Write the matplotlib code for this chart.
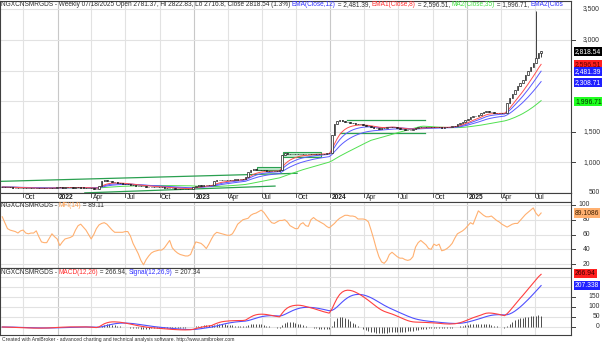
import matplotlib
matplotlib.use("Agg")
import matplotlib.pyplot as plt
import matplotlib.dates as mdates
import numpy as np
import pandas as pd

W, H = 602, 343
plt.rcParams['font.family'] = ['Liberation Sans', 'DejaVu Sans']

# weekly closes, first bar 2021-08-06, last 2025-07-18
closes = [
    598, 595, 592, 590, 588, 585, 583, 582, 580,
    578, 577, 576, 578, 575, 577, 576, 578, 580, 581, 583, 585,
    590, 592, 589, 591, 593, 590, 588, 590, 592, 589, 587, 585, 583,
    575, 570, 572,
    620, 690, 705,
    695, 688, 680, 672, 665, 660, 652, 645, 640,
    632, 625, 620, 615, 612, 608, 605, 603, 602, 600, 598, 596,
    590, 585, 582, 578, 575, 573, 570, 568, 566, 567, 570, 572,
    590, 615, 625, 622, 628, 630, 632, 635,
    695, 705, 710, 712, 708, 710, 715, 718, 720, 722, 725, 735,
    760, 845, 870,
    885, 880, 878, 872, 870, 866, 862, 860, 858, 862, 870,
    1120, 1150, 1145, 1140, 1135, 1138, 1142, 1140, 1135, 1130, 1135, 1140,
    1145, 1142, 1138, 1140, 1145, 1150, 1155,
    1440, 1620, 1680, 1690,
    1675, 1665, 1655, 1645, 1640, 1630, 1625, 1620, 1610, 1600, 1590,
    1575, 1565, 1555, 1550, 1555, 1565,
    1580, 1585, 1580, 1570,
    1555, 1545, 1540, 1535, 1530, 1535, 1545,
    1560, 1570, 1575, 1575, 1570,
    1575, 1578, 1570, 1575, 1572, 1568, 1570, 1575, 1580,
    1590, 1600, 1620, 1640, 1665,
    1690, 1710, 1735, 1750, 1765,
    1780, 1800, 1830, 1840, 1825,
    1815, 1810, 1805, 1810, 1800, 1805,
    1965, 2050, 2125, 2190, 2240, 2290, 2350, 2425, 2490, 2560, 2630, 2700,
    2782.3, 2818.54,
]
last_open, last_high, last_low = 2781.37, 2822.83, 2716.8
spike_bar, spike_high = 204, 3470

mfi = [
    84, 76, 68, 66, 65, 64, 62, 65, 66, 62,
    61, 62, 62, 65, 57, 50, 49, 49, 55, 61,
    57, 54, 45, 50, 54, 55, 56, 58, 66, 72,
    74, 70, 66, 60, 54, 60, 68, 73, 75, 76,
    74, 70, 66, 63, 63, 63, 63, 64, 64, 58,
    48, 41, 34, 25, 19, 26, 31, 35, 37, 38,
    39, 39, 42, 47, 52, 42, 38, 35, 33, 32,
    31, 31, 33, 42, 50, 49, 48, 45, 41, 47,
    54, 60, 63, 62, 61, 60, 59, 59, 61, 67,
    74, 77, 80, 81, 82, 86, 88, 89, 91, 93,
    90, 85, 80, 76, 75, 77, 79, 79, 80, 77,
    72, 70, 68, 68, 74, 76, 72, 71, 80, 83,
    80, 78, 76, 74, 71, 69, 72, 75, 79, 82,
    84, 86, 86, 85, 85, 84, 81, 81, 81, 80,
    77, 66, 54, 41, 30, 23, 21, 25, 33, 36,
    33, 30, 28, 28, 26, 25, 26, 30, 43, 49,
    52, 49, 46, 41, 40, 47, 45, 47, 38, 39,
    41, 44, 48, 55, 61, 63, 65, 68, 72, 76,
    74, 83, 92, 89, 86, 84, 84, 85, 82, 79,
    77, 74, 72, 70, 72, 74, 75, 75, 79, 83,
    87, 90, 93, 96, 89, 85, 89.11,
]

# hand-drawn study lines: (start date, start value, end date, end value)
trend_lines = [
    ("2021-07-31", 690, "2023-10-04", 822),
    ("2022-03-15", 502, "2023-08-06", 613),
    ("2024-02-14", 1690, "2024-09-10", 1690),
    ("2024-01-26", 1484, "2024-09-10", 1484),
]
boxes = [
    ("2023-06-20", "2023-08-26", 874, 926),
    ("2023-08-26", "2023-12-08", 1095, 1172),
]

dates = pd.date_range("2021-08-06", periods=len(closes), freq="W-FRI")
x = mdates.date2num(dates)
c = pd.Series(closes, dtype=float)
o = c.shift(1).fillna(c.iloc[0])
o.iloc[-1] = last_open
hi = np.maximum(o, c)
lo = np.minimum(o, c)
hi.iloc[-1], lo.iloc[-1] = last_high, last_low
hi.iloc[spike_bar] = spike_high

ema8 = c.ewm(span=8, adjust=False).mean()
ema12 = c.ewm(span=12, adjust=False).mean()
ema20 = c.ewm(span=20, adjust=False).mean()
ma35 = c.rolling(35, min_periods=1).mean()
macd = c.ewm(span=12, adjust=False).mean() - c.ewm(span=26, adjust=False).mean()
signal = macd.ewm(span=9, adjust=False).mean()

fig = plt.figure(figsize=(W / 100, H / 100), dpi=100)


def px_axes(x0, y0, x1, y1):
    return fig.add_axes([x0 / W, 1 - y1 / H, (x1 - x0) / W, (y1 - y0) / H])


ax_p = px_axes(0, 1, 571, 193)
ax_d = px_axes(0, 193, 571, 202)
ax_m = px_axes(0, 202, 571, 268)
ax_c = px_axes(0, 268, 571, 335)

xmin = mdates.date2num(pd.Timestamp("2021-07-31"))
xmax = mdates.date2num(pd.Timestamp("2025-10-06"))
quarters = pd.date_range("2021-10-01", "2025-07-01", freq="QS")

for a in (ax_p, ax_d, ax_m, ax_c):
    a.set_xlim(xmin, xmax)
    a.set_xticks([])
    a.set_yticks([])
    for s in a.spines.values():
        s.set_color("#404040")
        s.set_linewidth(0.8)
for a in (ax_p, ax_m, ax_c):
    for q in quarters:
        a.axvline(mdates.date2num(q), color="#c8c8c8" if q.month == 1 else "#e2e2e2",
                  lw=0.8, zorder=0)

# price pane
ax_p.set_ylim(500, 3636)
for v in [1000, 1500, 2000, 2500, 3000, 3500]:
    ax_p.axhline(v, color="#e2e2e2", lw=0.8, zorder=0)
for d0, d1, v0, v1 in boxes:
    t0, t1 = mdates.date2num(pd.Timestamp(d0)), mdates.date2num(pd.Timestamp(d1))
    ax_p.add_patch(plt.Rectangle((t0, v0), t1 - t0, v1 - v0, fc="#bfe8cc",
                                 ec="#2aa050", lw=0.8, zorder=1))
for d0, v0, d1, v1 in trend_lines:
    ax_p.plot([mdates.date2num(pd.Timestamp(d0)), mdates.date2num(pd.Timestamp(d1))],
              [v0, v1], color="#2aa050", lw=0.9, zorder=2)
ax_p.plot(x, ma35, color="#50e050", lw=0.7, zorder=3)
ax_p.plot(x, ema20, color="#5a5aff", lw=0.7, zorder=3)
ax_p.plot(x, ema12, color="#5a5aff", lw=0.7, zorder=3)
ax_p.plot(x, ema8, color="#ff5050", lw=0.7, zorder=3)
ax_p.vlines(x, lo, hi, color="#202020", lw=0.6, zorder=4)
up = c >= o
body = np.maximum(np.abs(c - o), 3)
ax_p.bar(x[up], body[up], bottom=np.minimum(o, c)[up], width=4, color="white",
         edgecolor="#202020", lw=0.5, zorder=5)
ax_p.bar(x[~up], body[~up], bottom=np.minimum(o, c)[~up], width=4, color="#202020",
         edgecolor="#202020", lw=0.5, zorder=5)

# date strip
for q in quarters:
    t = mdates.date2num(q)
    ax_d.plot([t, t], [0.55, 1], color="#404040", lw=0.6)
    lab = str(q.year) if q.month == 1 else q.strftime("%b")
    ax_d.text(t + 4, 0.45, lab, fontsize=4.8, va="center", ha="left",
              fontweight="bold" if q.month == 1 else "normal", color="#202020")
ax_d.set_ylim(0, 1)

# MFI pane
ax_m.set_ylim(14.7, 104)
for v in [20, 40, 60, 80, 100]:
    ax_m.axhline(v, color="#e2e2e2", lw=0.8, zorder=0)
ax_m.plot(x, mfi, color="#ffb070", lw=0.8)

# MACD pane
ax_c.set_ylim(-40, 295)
for v in [0, 50, 100, 150, 200, 250]:
    ax_c.axhline(v, color="#e2e2e2", lw=0.8, zorder=0)
ax_c.vlines(x, 0, macd - signal, color="#303030", lw=0.6)
ax_c.plot(x, signal, color="#5050ff", lw=0.8)
ax_c.plot(x, macd, color="#ff4040", lw=0.8)

renderer = fig.canvas.get_renderer()


def color_text(x0, y0, parts, size):
    for s, col in parts:
        t = fig.text(x0 / W, 1 - y0 / H, s, color=col, fontsize=size, va="center", ha="left")
        x0 += t.get_window_extent(renderer=renderer).width


dark = "#303030"
# the title runs past the pane edge in the original and is cut at "EMA2(Clos"
color_text(1, 5, [
    ("NGXCNSMRGDS - Weekly 07/18/2025 Open 2781.37, Hi 2822.83, Lo 2716.8, Close 2818.54 (1.3%) ", dark),
    ("EMA(Close,12)", "#3030ff"), (" = 2,481.39, ", dark),
    ("EMA1(Close,8)", "#ff3030"), (" = 2,596.51, ", dark),
    ("MA2(Close,35)", "#40e040"), (" = 1,996.71, ", dark),
    ("EMA2(Clos", "#3030ff"),
], 4.7)
color_text(1, 206, [("NGXCNSMRGDS - ", dark), ("MFI(14)", "#ffa050"), (" = 89.11", dark)], 4.7)
color_text(1, 272, [("NGXCNSMRGDS - ", dark), ("MACD(12,26)", "#ff3030"), (" = 266.94, ", dark),
                    ("Signal(12,26,9)", "#3030ff"), (" = 207.34", dark)], 4.7)
fig.text(2 / W, 1 - 339 / H,
         "Created with AmiBroker - advanced charting and technical analysis software. http://www.amibroker.com",
         fontsize=3.6, color=dark, va="center")


def right_labels(ax, vals, fmt, xr):
    for v in vals:
        yy = ax.transData.transform((xmin, v))[1]
        fig.text(xr / W, yy / H, fmt(v), fontsize=4.9, color=dark, ha="right", va="center")
        fig.add_artist(plt.Line2D([571 / W, 575 / W], [yy / H, yy / H], color="#404040", lw=0.7))


right_labels(ax_p, [3000, 1500, 1000], lambda v: f"{v:,}", 600)
fig.text(600 / W, 1 - 9 / H, "3,500", fontsize=4.9, color=dark, ha="right", va="center")
fig.text(600 / W, 1 - 192 / H, "500", fontsize=4.9, color=dark, ha="right", va="center")
right_labels(ax_m, [100, 80, 60, 40, 20], lambda v: f"{v}", 590)
right_labels(ax_c, [150, 100, 50, 0], lambda v: f"{v}", 600)


def tag(ax, v, s, bg, fg):
    yy = ax.transData.transform((xmin, v))[1]
    fig.text(575 / W, yy / H, s, fontsize=4.9, color=fg, ha="left", va="center",
             bbox=dict(boxstyle="square,pad=0.15", fc=bg, ec="none"))


tag(ax_p, 2818.54, "2,818.54", "#000000", "white")
tag(ax_p, 2596.51, "2,596.51", "#ff2020", "#600000")
tag(ax_p, 2481.39, "2,481.39", "#2020ff", "white")
tag(ax_p, 2308.71, "2,308.71", "#2020ff", "white")
tag(ax_p, 1996.71, "1,996.71", "#20ff20", "#003000")
tag(ax_m, 89.11, "89.1086", "#ffb070", "#402000")
tag(ax_c, 266.94, "266.94", "#ff2020", "#400000")
tag(ax_c, 207.34, "207.338", "#2020ff", "white")

fig.savefig("out.png", dpi=100)
